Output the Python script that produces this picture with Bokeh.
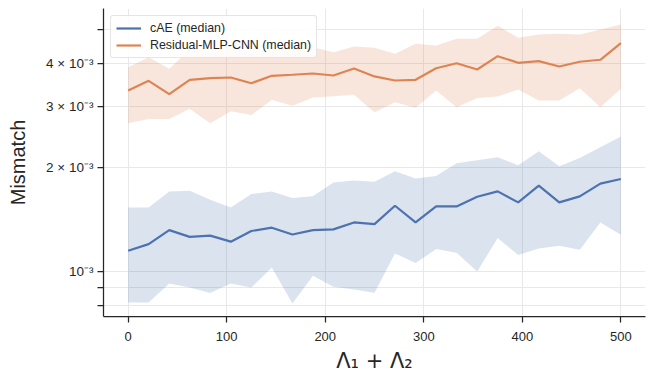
from bokeh.plotting import figure
from bokeh.models import (ColumnDataSource, Range1d, FixedTicker, Legend, LegendItem)
from bokeh.embed import file_html
from bokeh.resources import INLINE

# ---- data ----
lam_sum = [0, 20.8, 41.7, 62.5, 83.3, 104.2, 125, 145.8, 166.7, 187.5, 208.3, 229.2,
           250, 270.8, 291.7, 312.5, 333.3, 354.2, 375, 395.8, 416.7, 437.5, 458.3, 479.2, 500]

cae_median = [1.148, 1.200, 1.318, 1.260, 1.270, 1.220, 1.310, 1.339, 1.280, 1.318, 1.324, 1.387,
              1.372, 1.550, 1.387, 1.543, 1.543, 1.646, 1.706, 1.585, 1.772, 1.585, 1.650, 1.796, 1.853]
cae_upper = [1.533, 1.533, 1.705, 1.713, 1.614, 1.533, 1.676, 1.705, 1.632, 1.650, 1.811, 1.835,
             1.820, 1.950, 1.860, 1.890, 2.056, 2.100, 2.140, 2.030, 2.228, 2.016, 2.130, 2.290, 2.457]
cae_lower = [0.813, 0.813, 0.923, 0.899, 0.866, 0.923, 0.899, 1.027, 0.808, 0.972, 0.903, 0.887,
             0.868, 1.128, 1.058, 1.161, 1.133, 1.000, 1.250, 1.116, 1.166, 1.187, 1.156, 1.387, 1.278]

res_median = [3.341, 3.564, 3.260, 3.588, 3.626, 3.643, 3.507, 3.685, 3.710, 3.741, 3.692, 3.868,
              3.670, 3.571, 3.588, 3.876, 4.007, 3.842, 4.199, 4.018, 4.062, 3.920, 4.046, 4.100, 4.580]
res_upper = [3.90, 4.17, 3.86, 4.40, 4.35, 4.45, 4.30, 4.45, 4.40, 4.46, 4.31, 4.48,
             4.44, 4.27, 4.56, 4.51, 4.72, 4.72, 5.14, 4.75, 4.85, 4.88, 4.85, 5.02, 5.19]
res_lower = [2.685, 2.765, 2.765, 2.956, 2.685, 2.910, 2.840, 3.140, 3.020, 3.190, 3.216, 3.250,
             2.890, 3.090, 2.976, 3.340, 2.988, 3.180, 3.210, 3.364, 3.124, 3.124, 3.393, 2.988, 3.380]
unit = 1e-3  # values above are in units of 10^-3

x_ticks = [0, 100, 200, 300, 400, 500]
y_ticks = [8e-4, 9e-4, 1e-3, 2e-3, 3e-3, 4e-3, 5e-3]
y_tick_labels = ["", "", "10⁻³", "2 × 10⁻³", "3 × 10⁻³", "4 × 10⁻³", ""]

series_names = ["cAE (median)", "Residual-MLP-CNN (median)"]
colors = ["#4C72B0", "#DD8452"]

TEXT = "#262626"

p = figure(width=655, height=386, y_axis_type="log", output_backend="svg",
           toolbar_location=None, x_range=Range1d(-25, 525),
           y_range=Range1d(7.41e-4, 5.77e-3),
           min_border_left=103, min_border_right=10, min_border_top=8, min_border_bottom=70)
p.outline_line_color = None
p.background_fill_color = "white"
p.border_fill_color = "white"

def scaled(a):
    return [v * unit for v in a]

renderers = []
for med, lo, hi, col in [(cae_median, cae_lower, cae_upper, colors[0]),
                         (res_median, res_lower, res_upper, colors[1])]:
    src = ColumnDataSource(dict(x=lam_sum, m=scaled(med), lo=scaled(lo), hi=scaled(hi)))
    p.varea(x="x", y1="lo", y2="hi", source=src, fill_color=col, fill_alpha=0.2)
    r = p.line(x="x", y="m", source=src, line_color=col, line_width=2.2)
    renderers.append(r)

# axes
p.xaxis.ticker = FixedTicker(ticks=x_ticks)
p.yaxis.ticker = FixedTicker(ticks=y_ticks)
p.yaxis.major_label_overrides = {t: l for t, l in zip(y_ticks, y_tick_labels)}
for ax in (p.xaxis[0], p.yaxis[0]):
    ax.axis_line_color = TEXT
    ax.axis_line_width = 1.25
    ax.major_tick_line_color = TEXT
    ax.major_tick_line_width = 1.25
    ax.major_tick_out = 6
    ax.major_tick_in = 0
    ax.minor_tick_line_color = None
    ax.major_label_text_color = TEXT
    ax.major_label_text_font = "Liberation Sans"
    ax.major_label_text_font_size = "13px"
    ax.axis_label_text_color = TEXT
    ax.axis_label_text_font_style = "normal"
p.xaxis.major_label_standoff = 9
p.yaxis.major_label_standoff = 4
p.yaxis.major_label_text_font_size = "13.5px"

p.xaxis.axis_label = "Λ₁ + Λ₂"
p.xaxis.axis_label_text_font = "DejaVu Sans"
p.xaxis.axis_label_text_font_size = "21px"
p.xaxis.axis_label_standoff = 5
p.yaxis.axis_label = "Mismatch"
p.yaxis.axis_label_text_font = "Liberation Sans"
p.yaxis.axis_label_text_font_size = "20px"
p.yaxis.axis_label_standoff = 14

p.xgrid.grid_line_color = "#e8e8e8"
p.ygrid.grid_line_color = "#e8e8e8"
p.xgrid.grid_line_width = 1
p.ygrid.grid_line_width = 1

legend = Legend(items=[LegendItem(label=series_names[0], renderers=[renderers[0]]),
                       LegendItem(label=series_names[1], renderers=[renderers[1]])],
                location="top_left")
legend.margin = 7
legend.padding = 5
legend.spacing = 3
legend.label_text_font = "Liberation Sans"
legend.label_text_font_size = "12.4px"
legend.label_text_color = TEXT
legend.label_standoff = 9
legend.glyph_width = 25
legend.glyph_height = 14
legend.label_height = 14
legend.border_line_color = "#cccccc"
legend.border_line_width = 1
legend.border_radius = 3
legend.background_fill_alpha = 0.85
p.add_layout(legend)

open("out.html", "w").write(file_html(p, INLINE))
